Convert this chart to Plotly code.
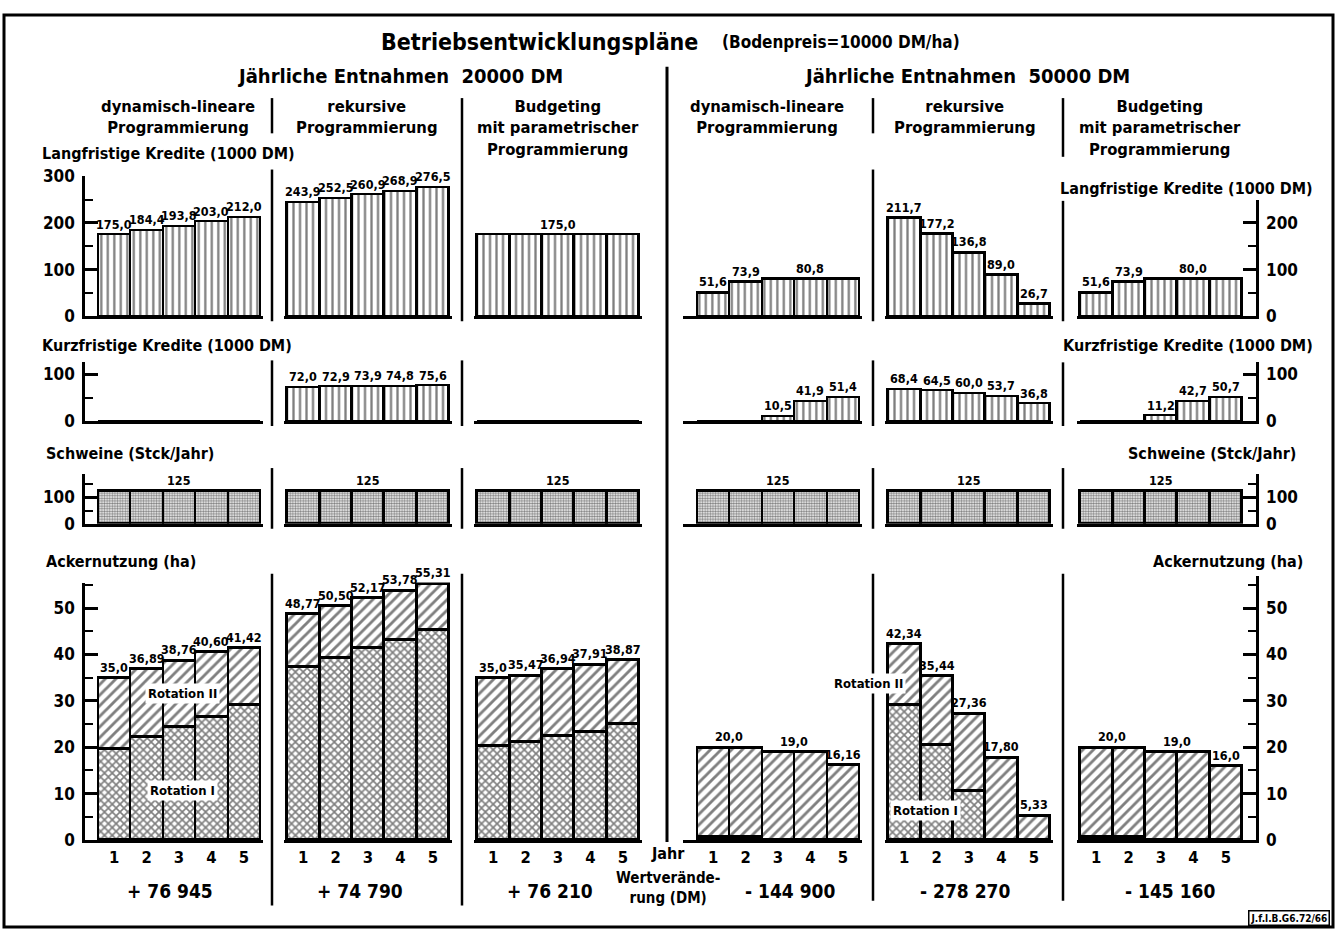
import plotly.graph_objects as go

W, H = 1337, 942
FONT = "DejaVu Sans Condensed, Liberation Sans Narrow, DejaVu Sans, sans-serif"

# ---------------- data ----------------
years = [1, 2, 3, 4, 5]
year_labels = ["1", "2", "3", "4", "5"]

title_main = "Betriebsentwicklungspläne"
title_sub = "(Bodenpreis=10000 DM/ha)"
entnahmen = ["Jährliche Entnahmen  20000 DM", "Jährliche Entnahmen  50000 DM"]
methods = [
    "dynamisch-lineare<br>Programmierung",
    "rekursive<br>Programmierung",
    "Budgeting<br>mit parametrischer<br>Programmierung",
] * 2
row_titles = ["Langfristige Kredite (1000 DM)", "Kurzfristige Kredite (1000 DM)",
              "Schweine (Stck/Jahr)", "Ackernutzung (ha)"]

# Langfristige Kredite (1000 DM), per plan, years 1..5
lang_values = [
    [175.0, 184.4, 193.8, 203.0, 212.0],
    [243.9, 252.5, 260.9, 268.9, 276.5],
    [175.0, 175.0, 175.0, 175.0, 175.0],
    [51.6, 73.9, 80.8, 80.8, 80.8],
    [211.7, 177.2, 136.8, 89.0, 26.7],
    [51.6, 73.9, 80.0, 80.0, 80.0],
]
# Kurzfristige Kredite (1000 DM)
kurz_values = [
    [0, 0, 0, 0, 0],
    [72.0, 72.9, 73.9, 74.8, 75.6],
    [0, 0, 0, 0, 0],
    [0, 0, 10.5, 41.9, 51.4],
    [68.4, 64.5, 60.0, 53.7, 36.8],
    [0, 0, 11.2, 42.7, 50.7],
]
# Schweine (Stck/Jahr)
schweine_values = [[125, 125, 125, 125, 125] for _ in range(6)]
# Ackernutzung (ha): totals and Rotation I part
acker_totals = [
    [35.0, 36.89, 38.76, 40.60, 41.42],
    [48.77, 50.50, 52.17, 53.78, 55.31],
    [35.0, 35.47, 36.94, 37.91, 38.87],
    [20.0, 20.0, 19.0, 19.0, 16.16],
    [42.34, 35.44, 27.36, 17.80, 5.33],
    [20.0, 20.0, 19.0, 19.0, 16.0],
]
acker_labels = [
    ["35,0", "36,89", "38,76", "40,60", "41,42"],
    ["48,77", "50,50", "52,17", "53,78", "55,31"],
    ["35,0", "35,47", "36,94", "37,91", "38,87"],
    ["20,0", "20,0", "19,0", "19,0", "16,16"],
    ["42,34", "35,44", "27,36", "17,80", "5,33"],
    ["20,0", "20,0", "19,0", "19,0", "16,0"],
]
acker_rot1 = [
    [19.8, 22.2, 24.5, 26.6, 29.2],
    [37.4, 39.3, 41.4, 43.3, 45.4],
    [20.3, 21.3, 22.6, 23.4, 25.1],
    [0.8, 0.8, 0, 0, 0],
    [29.2, 20.6, 10.6, 0, 0],
    [0.8, 0.8, 0, 0, 0],
]
wertveraenderung = ["+ 76 945", "+ 74 790", "+ 76 210", "- 144 900", "- 278 270", "- 145 160"]


def de(v):
    return f"{v:.1f}".replace(".", ",")


# ---------------- layout geometry (pixels) ----------------
PANEL_LEFT = [98, 287, 477, 697, 888, 1080]
UNIT = 32.4
X_RANGES = [(0.1, 5.6), (0.4, 5.6), (0.4, 5.6), (0.07, 5.6), (0.4, 5.6), (0.4, 5.93)]
ROW_BASE = [313, 420, 525, 848]
ROW_SCALE = [0.477, 0.48, 0.27, 4.74]
ROW_TOP_L = [300, 125, 190, 55.5]
ROW_TOP_R = [250, 125, 190, 57]
ROW_DTICK = [(100, 50), (100, 50), (100, 50), (10, 5)]

PX = lambda x: x / W
PY = lambda y: 1 - y / H

fig = go.Figure()
layout = {}
annotations = []
shapes = []

VLINE = dict(shape="|", fgcolor="black", bgcolor="white", size=6.5, solidity=0.35)
DOTS = dict(shape=".", fgcolor="black", bgcolor="white", size=2.6, solidity=0.55)
DIAG = dict(shape="/", fgcolor="black", bgcolor="white", size=7.5, solidity=0.38)
CROSS = dict(shape="x", fgcolor="black", bgcolor="white", size=5.5, solidity=0.5)
OUTLINE = dict(color="black", width=2.5)


def ax_ids(n):
    return ("x" if n == 1 else f"x{n}"), ("y" if n == 1 else f"y{n}")


def add_labels(xid, yid, vals, labels, size=12.5):
    i = 0
    while i < 5:
        j = i
        while j + 1 < 5 and labels[j + 1] == labels[i]:
            j += 1
        if vals[i] > 0:
            annotations.append(dict(
                x=(years[i] + years[j]) / 2, y=vals[i], xref=xid, yref=yid,
                text=labels[i], showarrow=False, yanchor="bottom", yshift=1,
                font=dict(family=FONT, size=size, color="black", weight="bold")))
        i = j + 1


for r in range(4):
    for p in range(6):
        n = r * 6 + p + 1
        xid, yid = ax_ids(n)
        a, b = X_RANGES[p]
        top = ROW_TOP_L[r] if p < 3 else ROW_TOP_R[r]
        x0 = PANEL_LEFT[p] + (a - 0.5) * UNIT
        x1 = PANEL_LEFT[p] + (b - 0.5) * UNIT
        ytop = ROW_BASE[r] - top * ROW_SCALE[r]
        xname = "xaxis" if n == 1 else f"xaxis{n}"
        yname = "yaxis" if n == 1 else f"yaxis{n}"
        layout[xname] = dict(
            domain=[PX(x0), PX(x1)], range=[a, b], anchor=yid,
            showline=True, linewidth=3, linecolor="black", ticks="",
            showticklabels=(r == 3), tickmode="array", tickvals=years, ticktext=year_labels,
            tickfont=dict(family=FONT, size=16.5, color="black", weight="bold"),
            showgrid=False, zeroline=False, fixedrange=True)
        ya = dict(domain=[PY(ROW_BASE[r]), PY(ytop)], range=[0, top], anchor=xid,
                  showgrid=False, zeroline=False, fixedrange=True)
        if p in (0, 5):
            maj, mnr = ROW_DTICK[r]
            ya.update(showline=True, linewidth=2.5, linecolor="black",
                      ticks="inside", ticklen=13, tickwidth=2.5, tickcolor="black",
                      dtick=maj, tick0=0, side=("left" if p == 0 else "right"),
                      ticklabelstandoff=4,
                      minor=dict(dtick=mnr, tick0=0, ticks="inside", ticklen=8,
                                 tickwidth=2, tickcolor="black"),
                      tickfont=dict(family=FONT, size=17, color="black", weight="bold"))
        else:
            ya.update(visible=False)
        layout[yname] = ya

        if r == 0:
            fig.add_trace(go.Bar(x=years, y=lang_values[p], xaxis=xid, yaxis=yid, width=1,
                                 marker=dict(color="white", line=OUTLINE, pattern=VLINE),
                                 hoverinfo="skip"))
            add_labels(xid, yid, lang_values[p], [de(v) for v in lang_values[p]])
        elif r == 1:
            fig.add_trace(go.Bar(x=years, y=kurz_values[p], xaxis=xid, yaxis=yid, width=1,
                                 marker=dict(color="white", line=OUTLINE, pattern=VLINE),
                                 hoverinfo="skip"))
            add_labels(xid, yid, kurz_values[p], [de(v) for v in kurz_values[p]])
        elif r == 2:
            fig.add_trace(go.Bar(x=years, y=schweine_values[p], xaxis=xid, yaxis=yid, width=1,
                                 marker=dict(color="white", line=OUTLINE, pattern=DOTS),
                                 hoverinfo="skip"))
            add_labels(xid, yid, schweine_values[p], [str(v) for v in schweine_values[p]])
        else:
            rot1 = acker_rot1[p]
            rot2 = [t - q for t, q in zip(acker_totals[p], rot1)]
            fig.add_trace(go.Bar(x=years, y=rot1, xaxis=xid, yaxis=yid, width=1,
                                 marker=dict(color="white", line=OUTLINE, pattern=CROSS),
                                 hoverinfo="skip"))
            fig.add_trace(go.Bar(x=years, y=rot2, xaxis=xid, yaxis=yid, width=1,
                                 marker=dict(color="white", line=OUTLINE, pattern=DIAG),
                                 hoverinfo="skip"))
            add_labels(xid, yid, acker_totals[p], acker_labels[p])


def txt(x, y, text, size, xanchor="center", yanchor="middle", **kw):
    annotations.append(dict(x=PX(x), y=PY(y), xref="paper", yref="paper", text=text,
                            showarrow=False, xanchor=xanchor, yanchor=yanchor,
                            font=dict(family=FONT, size=size, color="black", weight="bold"), **kw))


# titles
txt(700, 33, title_main, 23, xanchor="right")
txt(720, 33, title_sub, 17, xanchor="left")
txt(400, 67, entnahmen[0], 20)
txt(967, 67, entnahmen[1], 20)
for cx, m in zip([178, 367, 558, 767, 965, 1160], methods):
    txt(cx, 87, m, 16.5, yanchor="top")

# row titles
txt(40, 147, row_titles[0], 16, xanchor="left")
txt(40, 343, row_titles[1], 16, xanchor="left")
txt(44, 453, row_titles[2], 16, xanchor="left")
txt(44, 563, row_titles[3], 16, xanchor="left")
txt(1315, 182, row_titles[0], 16, xanchor="right")
txt(1315, 343, row_titles[1], 16, xanchor="right")
txt(1298, 453, row_titles[2], 16, xanchor="right")
txt(1305, 563, row_titles[3], 16, xanchor="right")

# rotation labels
box = dict(bgcolor="white", borderpad=2)
txt(182, 698, "Rotation II", 13, **box)
txt(182, 797, "Rotation I", 13, **box)
txt(868, 688, "Rotation II", 13, **box)
txt(925, 818, "Rotation I", 13, **box)

# bottom texts
txt(668, 862, "Jahr", 16)
txt(668, 897, "Wertverände-<br>rung (DM)", 15)
for cx, v in zip([170, 360, 550, 790, 965, 1170], wertveraenderung):
    txt(cx, 900, v, 19)

annotations.append(dict(x=PX(1330), y=PY(936), xref="paper", yref="paper",
                        text="J.f.l.B.G6.72/66", showarrow=False, xanchor="right", yanchor="bottom",
                        bordercolor="black", borderwidth=1.5, borderpad=1,
                        font=dict(family=FONT, size=10, color="black", weight="bold")))


# dividers
def vline(x, y0, y1, w=2.5):
    shapes.append(dict(type="line", xref="paper", yref="paper", x0=PX(x), x1=PX(x),
                       y0=PY(y0), y1=PY(y1), line=dict(color="black", width=w)))


for y0, y1 in [(90, 126), (163, 318), (358, 425), (468, 530), (576, 915)]:
    vline(272, y0, y1)
for y0, y1 in [(90, 318), (358, 425), (468, 530), (576, 915)]:
    vline(462, y0, y1)
for y0, y1 in [(90, 126), (163, 318), (358, 425), (468, 530), (576, 910)]:
    vline(873, y0, y1)
for y0, y1 in [(90, 150), (195, 318), (360, 425), (468, 530), (576, 910)]:
    vline(1063, y0, y1)
vline(667, 58, 850, 3)

# outer frame
shapes.append(dict(type="rect", xref="paper", yref="paper", x0=PX(4), x1=PX(1333),
                   y0=PY(937), y1=PY(5), line=dict(color="black", width=3)))

fig.update_layout(
    width=W, height=H, margin=dict(l=0, r=0, t=0, b=0),
    paper_bgcolor="white", plot_bgcolor="rgba(0,0,0,0)",
    barmode="stack", bargap=0, showlegend=False,
    font=dict(family=FONT, color="black"),
    annotations=annotations, shapes=shapes, **layout)

post = """
document.documentElement.style.margin='0';
document.documentElement.style.overflow='hidden';
document.body.style.margin='0';
document.body.style.overflow='hidden';
var gd=document.getElementById('{plot_id}');
gd.style.position='absolute'; gd.style.left='0px'; gd.style.top='0px';
"""
fig.write_html("out.html", config={"displayModeBar": False}, post_script=post)
